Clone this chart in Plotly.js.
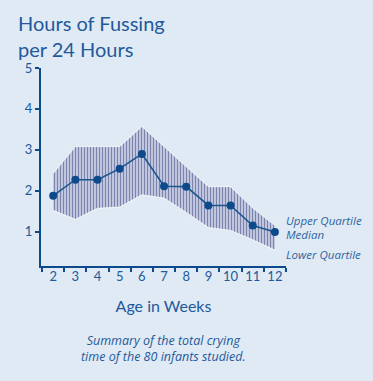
<!DOCTYPE html>
<html>
<head>
<meta charset="utf-8">
<script src="https://cdn.plot.ly/plotly-3.0.1.min.js"></script>
<style>
  html, body { margin: 0; padding: 0; background: #dfeaf5; }
  #chart { width: 373px; height: 381px; }
</style>
</head>
<body>
<div id="chart"></div>
<script>
const weeks = [2, 3, 4, 5, 6, 7, 8, 9, 10, 11, 12];
const median = [1.88, 2.27, 2.27, 2.54, 2.90, 2.11, 2.10, 1.64, 1.64, 1.15, 0.99];
const upperQuartile = [2.42, 3.08, 3.08, 3.08, 3.57, 3.08, 2.59, 2.10, 2.10, 1.58, 1.15];
const lowerQuartile = [1.52, 1.30, 1.57, 1.60, 1.90, 1.82, 1.47, 1.10, 1.03, 0.80, 0.55];
const yTicks = [1, 2, 3, 4, 5];
const legendLabels = ["Upper Quartile", "Median", "Lower Quartile"];
const legendY = [1.27, 0.92, 0.43];

const blue = '#0d4a8c';
const textBlue = '#23599a';
const fontFam = 'Lato, "Open Sans", sans-serif';
const italicFam = '"Open Sans", sans-serif';

const traces = [
  {
    x: weeks, y: lowerQuartile, type: 'scatter', mode: 'lines',
    line: { color: 'rgba(255,255,255,0.75)', width: 1 },
    hoverinfo: 'skip', showlegend: false
  },
  {
    x: weeks, y: upperQuartile, type: 'scatter', mode: 'lines',
    line: { color: 'rgba(255,255,255,0.75)', width: 1 },
    fill: 'tonexty',
    fillcolor: '#c6cde3',
    fillpattern: { shape: '|', size: 3, solidity: 0.45, fgcolor: '#7c84ad', bgcolor: '#cdd4e7' },
    hoverinfo: 'skip', showlegend: false
  },
  {
    x: weeks, y: median, type: 'scatter', mode: 'lines+markers',
    line: { color: '#1b568f', width: 1.6 },
    marker: { color: blue, size: 8 },
    showlegend: false
  }
];

const legendAnn = legendLabels.map((t, i) => ({
  text: '<i>' + t + '</i>', xref: 'paper', yref: 'y', x: 1, y: legendY[i],
  xanchor: 'left', xshift: -2, showarrow: false,
  font: { size: 11.5, color: '#2f64a0', family: italicFam }
}));

const layout = {
  width: 373, height: 381,
  paper_bgcolor: '#dfeaf5', plot_bgcolor: '#dfeaf5',
  margin: { l: 41, r: 87, t: 68, b: 115 },
  font: { family: fontFam, color: textBlue },
  title: {
    text: 'Hours of Fussing<br>per 24 Hours',
    xref: 'container', yref: 'container',
    x: 18 / 373, xanchor: 'left',
    y: 1 - 31 / 381, yanchor: 'top',
    font: { family: fontFam, size: 20, color: textBlue }
  },
  xaxis: {
    range: [1.45, 12.5],
    tickmode: 'array', tickvals: weeks, ticktext: weeks.map(String),
    ticks: '', ticklabelstandoff: -3,
    tickfont: { size: 13, color: textBlue, family: fontFam },
    showline: true, linecolor: blue, linewidth: 2,
    showgrid: false, zeroline: false,
    minor: { tickmode: 'linear', tick0: 2.5, dtick: 1, ticks: 'outside', ticklen: 4, tickwidth: 2, tickcolor: blue, showgrid: false },
    title: { text: 'Age in Weeks', standoff: 18, font: { size: 16, color: textBlue, family: fontFam } }
  },
  yaxis: {
    range: [0.16, 5],
    tickmode: 'array', tickvals: yTicks, ticktext: yTicks.map(String),
    ticks: 'outside', ticklen: 4, tickwidth: 2, tickcolor: blue,
    tickfont: { size: 13, color: textBlue, family: fontFam },
    showline: true, linecolor: blue, linewidth: 2,
    showgrid: false, zeroline: false
  },
  annotations: legendAnn.concat([
    { text: '<i>Summary of the total crying<br>time of the 80 infants studied.</i>', xref: 'paper', yref: 'paper', x: 0.5, y: 0, yanchor: 'top', yshift: -64, showarrow: false, font: { size: 12.5, color: textBlue, family: italicFam } }
  ])
};

Plotly.newPlot('chart', traces, layout, { displayModeBar: false, staticPlot: true });
</script>
</body>
</html>
